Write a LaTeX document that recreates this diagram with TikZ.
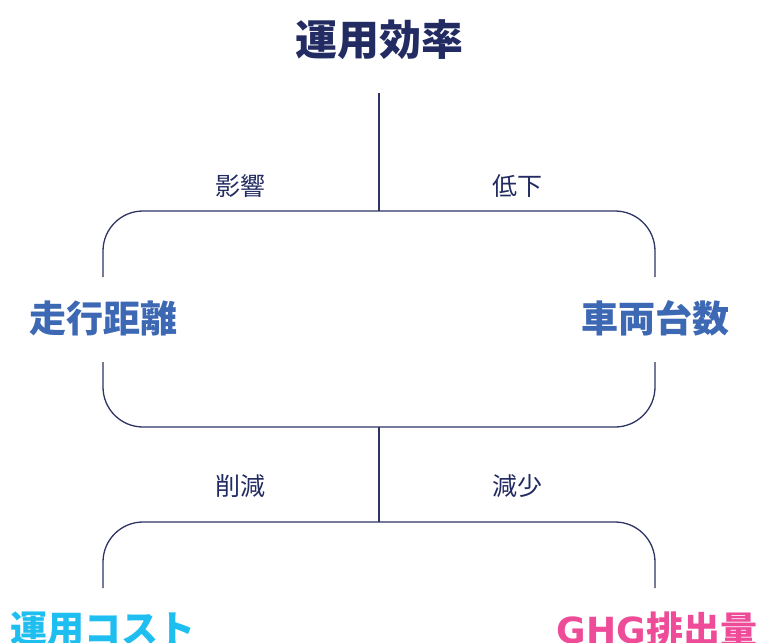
\documentclass[tikz,border=0pt]{standalone}
\usepackage{fontspec}
\newfontfamily\jp{Noto Sans CJK JP}
\newfontfamily\latw{DejaVu Sans}
\definecolor{navy}{HTML}{232C62}
\definecolor{midblue}{HTML}{3C68B4}
\definecolor{cyanc}{HTML}{1EBEF0}
\definecolor{pinkc}{HTML}{EE4C98}
\definecolor{linec}{HTML}{2E3464}
\begin{document}
\begin{tikzpicture}[x=1pt,y=-1pt,
  every node/.style={inner sep=0pt},
  titlebox/.style={font=\jp\bfseries\fontsize{42}{42}\selectfont, text=navy},
  midbox/.style={font=\jp\bfseries\fontsize{37}{37}\selectfont, text=midblue},
  lab/.style={font=\jp\fontsize{25}{25}\selectfont, text=navy},
  conn/.style={draw=linec, line width=1.3pt},
  bracket/.style={conn, rounded corners=40pt}]
\path[use as bounding box] (0,0) rectangle (761,643);
\clip (0,0) rectangle (761,643);
\node[titlebox] (eff) at (379,40) {運用効率};
\node[lab] (l1) at (240,186) {影響};
\node[lab] (l2) at (517,186) {低下};
\node[midbox] (km) at (104,318) {走行距離};
\node[midbox] (veh) at (655,318) {車両台数};
\node[lab] (l3) at (240,486) {削減};
\node[lab] (l4) at (517,486) {減少};
\node[midbox, text=cyanc] (cost) at (103,629) {運用コスト};
\node[midbox, text=pinkc] (ghg) at (657,629) {{\latw\bfseries\fontsize{36}{36}\selectfont GHG}排出量};
\coordinate (j1) at (379,211);
\coordinate (j2) at (379,427);
\coordinate (j3) at (379,522);
\coordinate (a1) at (103,277);
\coordinate (a2) at (655,277);
\coordinate (b1) at (103,362);
\coordinate (b2) at (655,362);
\coordinate (c1) at (103,588);
\coordinate (c2) at (655,588);
\draw[conn] ([yshift=-33pt]eff.south) -- (j1);
\draw[bracket] (a1) |- (j1) -| (a2);
\draw[bracket] (b1) |- (j2) -| (b2);
\draw[conn] (j2) -- (j3);
\draw[bracket] (c1) |- (j3) -| (c2);
\end{tikzpicture}
\end{document}
